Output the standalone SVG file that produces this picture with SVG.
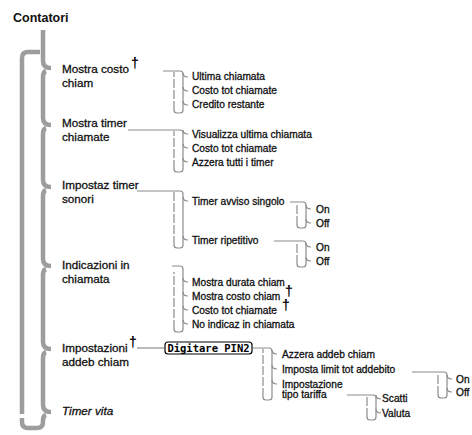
<svg xmlns="http://www.w3.org/2000/svg" width="472" height="435" viewBox="0 0 472 435">
<style>
.spine{fill:none;stroke:#9d9d9d;stroke-width:4.5;stroke-linecap:butt}
.br{fill:none;stroke:#8c8c8c;stroke-width:1.2}
.brd{fill:none;stroke:#8c8c8c;stroke-width:1.2;stroke-dasharray:9 2}
.t{font-family:"Liberation Sans",Arial,sans-serif;fill:#111;stroke:#111;stroke-width:0.3}
.m{font-size:11.7px}
.s{font-size:10.2px}
.d{font-family:"Liberation Sans",Arial,sans-serif;font-size:14px;font-weight:bold;fill:#000}
.pin{font-family:"DejaVu Sans Mono","Liberation Mono",monospace;font-size:10.5px;font-weight:bold;fill:#000}
</style>
<rect width="472" height="435" fill="#fff"/>
<text x="13" y="22" font-family="Liberation Sans, Arial, sans-serif" font-size="12.5" font-weight="bold" fill="#111">Contatori</text>

<g id="connectors">
  <path class="spine" d="M43 30 V61 Q43 68 51 68"/>
  <path class="spine" d="M46 71 Q43 72 43 77 V118 Q43 125 51 125"/>
  <path class="spine" d="M46 128 Q43 129 43 134 V180 Q43 187 51 187"/>
  <path class="spine" d="M46 190 Q43 191 43 196 V259 Q43 266 51 266"/>
  <path class="spine" d="M46 269 Q43 270 43 275 V342 Q43 349 51 349"/>
  <path class="spine" d="M46 352 Q43 353 43 358 V405 Q43 412 51 412"/>
  <path class="spine" d="M46 415 Q43 416 43 420 V422 Q43 428 37 428 H28 Q22 428 22 422 V418"/>
  <path class="spine" d="M40 52 H28 Q22 52 22 58 V414"/>

  <!-- group 1 -->
  <path class="br" d="M163 71 H180 Q183 71 183 74 V110 Q183 113 180 113 H177 Q174 113 174 110"/>
  <path class="brd" d="M174 110 V72"/>
  <path class="br" d="M183 73 Q183 77 188 77 M183 87 Q183 91 188 91 M183 101 Q183 105 188 105"/>
  <!-- group 2 -->
  <path class="br" d="M128 130 H180 Q183 130 183 133 V169 Q183 172 180 172 H177 Q174 172 174 169"/>
  <path class="brd" d="M174 169 V131"/>
  <path class="br" d="M183 130 Q183 134 188 134 M183 144 Q183 148 188 148 M183 158 Q183 162 188 162"/>
  <!-- group 3 -->
  <path class="br" d="M137 191 H180 Q183 191 183 194 V245 Q183 248 180 248 H177 Q174 248 174 245"/>
  <path class="brd" d="M174 245 V192"/>
  <path class="br" d="M183 197 Q183 201 188 201 M183 236 Q183 240 188 240"/>
  <path class="br" d="M290 202 H303 Q306 202 306 205 V225 Q306 228 303 228 H300 Q297 228 297 225"/>
  <path class="brd" d="M297 225 V203"/>
  <path class="br" d="M306 205 Q306 209 311 209 M306 219 Q306 223 311 223"/>
  <path class="br" d="M274 241 H303 Q306 241 306 244 V264 Q306 267 303 267 H300 Q297 267 297 264"/>
  <path class="brd" d="M297 264 V242"/>
  <path class="br" d="M306 243 Q306 247 311 247 M306 257 Q306 261 311 261"/>
  <!-- group 4 -->
  <path class="br" d="M172 266 H180 Q183 266 183 269 V329 Q183 332 180 332 H177 Q174 332 174 329"/>
  <path class="brd" d="M174 329 V272"/>
  <path class="br" d="M183 278 Q183 282 188 282 M183 292 Q183 296 188 296 M183 306 Q183 310 188 310 M183 320 Q183 324 188 324"/>
  <!-- group 5 -->
  <path class="br" d="M137 348 H164"/>
  <path class="br" d="M253 348 H269 Q272 348 272 351 V397 Q272 400 269 400 H266 Q263 400 263 397"/>
  <path class="brd" d="M263 397 V349"/>
  <path class="br" d="M272 350 Q272 354 277 354 M272 365 Q272 369 277 369 M272 380 Q272 384 277 384"/>
  <path class="br" d="M412 372 H444 Q447 372 447 375 V395 Q447 398 444 398 H441 Q438 398 438 395"/>
  <path class="brd" d="M438 395 V373"/>
  <path class="br" d="M447 375 Q447 379 452 379 M447 388 Q447 392 452 392"/>
  <path class="br" d="M347 395 H373 Q376 395 376 398 V417 Q376 420 373 420 H370 Q367 420 367 417"/>
  <path class="brd" d="M367 417 V396"/>
  <path class="br" d="M376 395 Q376 399 381 399 M376 409 Q376 413 381 413"/>
</g>

<g id="mostra-costo">
  <text class="t m" x="62" y="73">Mostra costo</text>
  <text class="t m" x="62" y="87">chiam</text>
  <text class="d" x="131" y="68">†</text>
</g>
<g id="mostra-costo-children">
  <text class="t s" x="192" y="80">Ultima chiamata</text>
  <text class="t s" x="192" y="94">Costo tot chiamate</text>
  <text class="t s" x="192" y="108">Credito restante</text>
</g>
<g id="mostra-timer">
  <text class="t m" x="62" y="127">Mostra timer</text>
  <text class="t m" x="62" y="141">chiamate</text>
</g>
<g id="mostra-timer-children">
  <text class="t s" x="192" y="138">Visualizza ultima chiamata</text>
  <text class="t s" x="192" y="152">Costo tot chiamate</text>
  <text class="t s" x="192" y="166">Azzera tutti i timer</text>
</g>
<g id="impostaz-timer">
  <text class="t m" x="62" y="189">Impostaz timer</text>
  <text class="t m" x="62" y="203">sonori</text>
</g>
<g id="impostaz-timer-children">
  <text class="t s" x="192" y="205">Timer avviso singolo</text>
  <text class="t s" x="192" y="244">Timer ripetitivo</text>
  <text class="t s" x="316" y="213">On</text>
  <text class="t s" x="316" y="227">Off</text>
  <text class="t s" x="316" y="251">On</text>
  <text class="t s" x="316" y="265">Off</text>
</g>
<g id="indicazioni">
  <text class="t m" x="62" y="269">Indicazioni in</text>
  <text class="t m" x="62" y="283">chiamata</text>
</g>
<g id="indicazioni-children">
  <text class="t s" x="192" y="286">Mostra durata chiam</text>
  <text class="t s" x="192" y="300">Mostra costo chiam</text>
  <text class="d" x="285" y="296">†</text>
  <text class="t s" x="192" y="314">Costo tot chiamate</text>
  <text class="d" x="282" y="310">†</text>
  <text class="t s" x="192" y="328">No indicaz in chiamata</text>
</g>
<g id="impostazioni-addeb">
  <text class="t m" x="62" y="352">Impostazioni</text>
  <text class="t m" x="62" y="366">addeb chiam</text>
  <text class="d" x="129" y="347">†</text>
</g>
<g id="pin2">
  <rect x="165" y="342" width="87" height="12" rx="3" fill="#fff" stroke="#000" stroke-width="1.2"/>
  <text class="pin" x="208.5" y="351.5" text-anchor="middle">Digitare PIN2</text>
</g>
<g id="impostazioni-children">
  <text class="t s" x="282" y="358">Azzera addeb chiam</text>
  <text class="t s" x="282" y="373">Imposta limit tot addebito</text>
  <text class="t s" x="282" y="388">Impostazione</text>
  <text class="t s" x="282" y="398">tipo tariffa</text>
  <text class="t s" x="456" y="383">On</text>
  <text class="t s" x="456" y="396">Off</text>
  <text class="t s" x="382" y="402">Scatti</text>
  <text class="t s" x="382" y="417">Valuta</text>
</g>
<g id="timer-vita">
  <text class="t m" x="62" y="415" font-style="italic">Timer vita</text>
</g>
</svg>
